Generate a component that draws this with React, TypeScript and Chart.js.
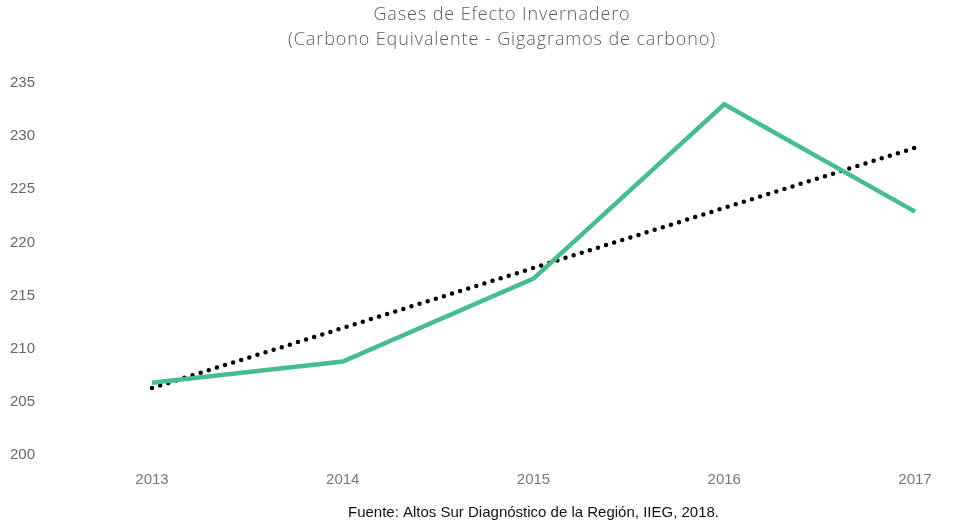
import React, { useEffect, useRef } from "react";
import { Chart, registerables } from "chart.js";

Chart.register(...registerables);

const years = ["2013", "2014", "2015", "2016", "2017"];
const emisiones = [206.8, 208.8, 216.6, 233.0, 222.9];
const tendencia = [206.3, null, null, null, 228.9];
const titleLines = ["Gases de Efecto Invernadero", "(Carbono Equivalente - Gigagramos de carbono)"];
const footer = "Fuente: Altos Sur Diagnóstico de la Región, IIEG, 2018.";

const textPlugin = {
  id: "textPlugin",
  afterDraw(chart: any) {
    const ctx = chart.ctx;
    const ca = chart.chartArea;
    ctx.save();
    ctx.textAlign = "center";
    ctx.textBaseline = "middle";
    ctx.fillStyle = "#5a5a5a";
    ctx.font = "300 18px 'Open Sans', 'Noto Sans', sans-serif";
    (ctx as any).letterSpacing = "0.9px";
    const cx = chart.width / 2 + 24;
    ctx.fillText(titleLines[0], cx, 15);
    ctx.fillText(titleLines[1], cx, 40);
    (ctx as any).letterSpacing = "0px";
    ctx.fillStyle = "#111";
    ctx.font = "15px 'Liberation Sans Narrow', 'Liberation Sans', sans-serif";
    ctx.fillText(footer, (ca.left + ca.right) / 2, 513);
    ctx.restore();
  },
};

export default function App() {
  const ref = useRef<HTMLCanvasElement>(null);
  useEffect(() => {
    document.body.style.margin = "0";
    const chart = new Chart(ref.current!, {
      type: "line",
      data: {
        labels: years,
        datasets: [
          {
            data: emisiones,
            borderColor: "#47BD8D",
            borderWidth: 4.5,
            pointRadius: 0,
            tension: 0,
            borderJoinStyle: "miter",
          },
          {
            data: tendencia as any,
            spanGaps: true,
            borderColor: "#000",
            borderWidth: 4.5,
            borderDash: [0, 8.5],
            borderCapStyle: "round",
            pointRadius: 0,
          },
        ],
      },
      options: {
        animation: false,
        responsive: false,
        layout: { padding: { top: 83, right: 41, left: 10, bottom: 0 } },
        plugins: { legend: { display: false }, tooltip: { enabled: false } },
        scales: {
          x: {
            offset: false,
            grid: { display: false },
            border: { display: false },
            ticks: {
              color: "#777",
              font: { family: "'Liberation Sans Narrow', 'Liberation Sans', sans-serif", size: 15 },
              padding: 8,
              maxRotation: 0,
            },
            afterFit: (s: any) => {
              s.height = 74;
            },
          },
          y: {
            min: 200,
            max: 235,
            grid: { display: false },
            border: { display: false },
            ticks: {
              stepSize: 5,
              color: "#666",
              crossAlign: "far",
              font: { family: "'Liberation Sans Narrow', 'Liberation Sans', sans-serif", size: 15 },
            },
            afterFit: (s: any) => {
              s.width = 142;
            },
          },
        },
      },
      plugins: [textPlugin],
    });
    return () => chart.destroy();
  }, []);
  return <canvas ref={ref} width={956} height={529} style={{ display: "block" }} />;
}
